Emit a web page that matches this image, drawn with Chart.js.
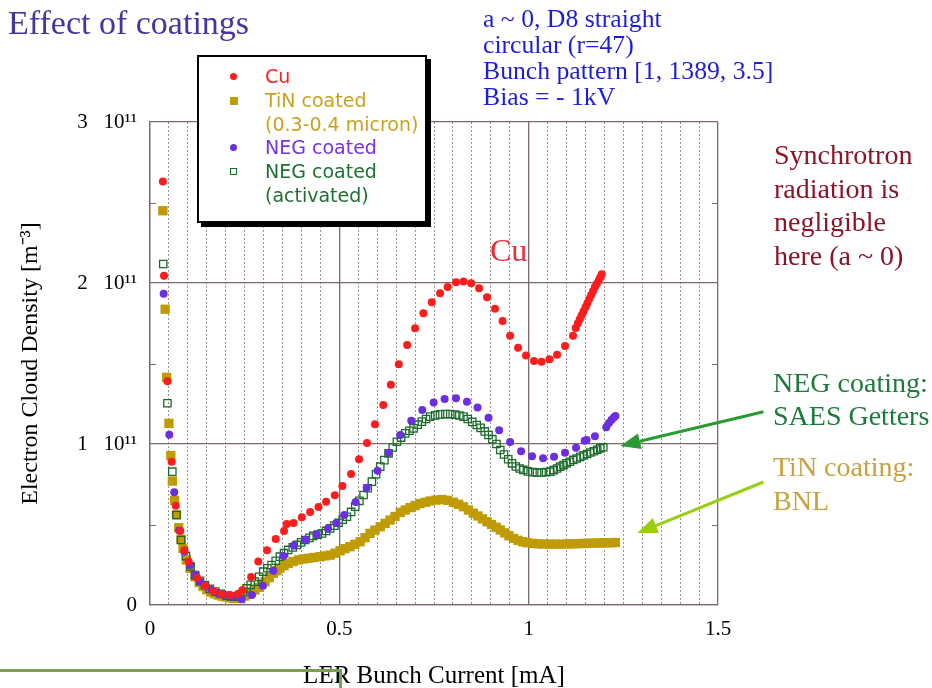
<!DOCTYPE html>
<html>
<head>
<meta charset="utf-8">
<title>Effect of coatings</title>
<script src="https://cdn.jsdelivr.net/npm/chart.js@4.4.1/dist/chart.umd.min.js"></script>
<style>
  html, body { margin: 0; padding: 0; background: #fff; }
  #wrap { position: relative; width: 932px; height: 688px; overflow: hidden; }
  #chart { position: absolute; left: 0; top: 0; }
  .note { position: absolute; font-family: 'Liberation Serif', 'Times New Roman', serif; white-space: nowrap; }
  #legend {
    position: absolute; left: 197px; top: 55px; width: 226px; height: 156px;
    border: 2px solid #000; background: #fff; box-shadow: 4px 4px 0 #000;
    font-family: 'DejaVu Sans', sans-serif; font-size: 19px; line-height: 23.8px;
    padding-top: 8px; box-sizing: content-box;
  }
  #legend .row { position: relative; padding-left: 66px; white-space: nowrap; }
  #legend .mk { position: absolute; left: 31px; top: 8px; }
  .deco { position: absolute; background: #7aa152; }
</style>
</head>
<body>
<div id="wrap">
  <canvas id="chart" width="932" height="688"></canvas>

  <div class="note" style="left:8px; top:6px; font-size:34px; line-height:34px; color:#43369f;">Effect of coatings</div>
  <div class="note" style="left:483px; top:6px; font-size:25.7px; line-height:26px; color:#1e1ed6;">a ~ 0, D8 straight<br>circular (r=47)<br>Bunch pattern [1, 1389, 3.5]<br>Bias = - 1kV</div>
  <div class="note" style="left:774px; top:138px; font-size:28px; line-height:33.5px; color:#8c1428;">Synchrotron<br>radiation is<br>negligible<br>here (a ~ 0)</div>
  <div class="note" style="left:490px; top:234px; font-size:32px; line-height:32px; color:#e8303c;">Cu</div>
  <div class="note" style="left:773px; top:367px; font-size:28px; line-height:32.5px; color:#1c7a3c;">NEG coating:<br>SAES Getters</div>
  <div class="note" style="left:773px; top:450px; font-size:28px; line-height:34px; color:#c9a13e;">TiN coating:<br>BNL</div>

  <div id="legend">
    <div class="row" style="color:#ff2020;"><span class="mk" style="width:7px;height:7px;border-radius:50%;background:#ff1c1c;"></span>Cu</div>
    <div class="row" style="color:#c9a222;"><span class="mk" style="width:8px;height:8px;background:#bf9b06;"></span>TiN coated</div>
    <div class="row" style="color:#c9a222;">(0.3-0.4 micron)</div>
    <div class="row" style="color:#7633e6;"><span class="mk" style="width:7px;height:7px;border-radius:50%;background:#6b2ee0;"></span>NEG coated</div>
    <div class="row" style="color:#1f7030;"><span class="mk" style="width:5px;height:5px;border:1px solid #1b6b2b;"></span>NEG coated</div>
    <div class="row" style="color:#1f7030;">(activated)</div>
  </div>

  <!-- slide decoration bottom left -->
  <div class="deco" style="left:0; top:669px; width:342px; height:3px;"></div>
  <div class="deco" style="left:339px; top:669px; width:3px; height:19px;"></div>
</div>

<script>
// LER bunch current [mA] and electron cloud density in units of 1e11 m^-3
const cuX = [0.034, 0.037, 0.046, 0.057, 0.068, 0.080, 0.091, 0.102, 0.124, 0.146, 0.168, 0.190, 0.212, 0.233,
  0.244, 0.267, 0.286, 0.309, 0.332, 0.354, 0.361, 0.379, 0.401, 0.423, 0.445, 0.465, 0.488, 0.508, 0.531, 0.552,
  0.573, 0.594, 0.616, 0.636, 0.657, 0.679, 0.700, 0.722, 0.744, 0.766, 0.786, 0.808, 0.828, 0.848, 0.869, 0.890,
  0.911, 0.931, 0.951, 0.972, 0.993, 1.014, 1.034, 1.055, 1.075, 1.096, 1.117, 1.124, 1.130, 1.135, 1.140, 1.145,
  1.150, 1.155, 1.160, 1.165, 1.170, 1.175, 1.180, 1.185, 1.189, 1.193];
const cuY = [2.63, 2.045, 1.39, 0.89, 0.617, 0.46, 0.34, 0.27, 0.17, 0.12, 0.085, 0.068, 0.062, 0.07,
  0.093, 0.174, 0.27, 0.34, 0.41, 0.46, 0.503, 0.51, 0.545, 0.578, 0.609, 0.642, 0.681, 0.739, 0.814, 0.905,
  1.006, 1.122, 1.242, 1.368, 1.495, 1.615, 1.719, 1.812, 1.88, 1.936, 1.975, 2.004, 2.01, 1.998, 1.967, 1.911,
  1.84, 1.764, 1.673, 1.598, 1.549, 1.516, 1.511, 1.526, 1.555, 1.609, 1.673, 1.72, 1.75, 1.775, 1.80, 1.825,
  1.85, 1.875, 1.90, 1.925, 1.95, 1.975, 1.995, 2.015, 2.035, 2.055];

const tinX = [0.034, 0.040, 0.044, 0.050, 0.055, 0.059, 0.065, 0.070, 0.076, 0.082, 0.087, 0.096, 0.106, 0.119,
  0.130, 0.140, 0.150, 0.160, 0.170, 0.180, 0.190, 0.200, 0.210, 0.220, 0.230, 0.240, 0.251, 0.260, 0.268, 0.277,
  0.286, 0.295, 0.304, 0.315, 0.326, 0.335, 0.343, 0.354, 0.365, 0.378, 0.392, 0.405, 0.418, 0.432, 0.449, 0.462,
  0.476, 0.489, 0.502, 0.515, 0.528, 0.541, 0.555, 0.568, 0.581, 0.594, 0.608, 0.621, 0.634, 0.647, 0.661, 0.674,
  0.687, 0.700, 0.713, 0.727, 0.740, 0.755, 0.771, 0.786, 0.801, 0.815, 0.828, 0.841, 0.854, 0.866, 0.878, 0.890,
  0.902, 0.914, 0.925, 0.937, 0.948, 0.960, 0.972, 0.984, 0.995, 1.010, 1.025, 1.039, 1.055, 1.070, 1.085, 1.101,
  1.115, 1.128, 1.141, 1.154, 1.167, 1.180, 1.192, 1.205, 1.217, 1.229];
const tinY = [2.449, 1.837, 1.414, 1.128, 0.928, 0.77, 0.65, 0.56, 0.48, 0.408, 0.352, 0.28, 0.228, 0.176,
  0.14, 0.115, 0.095, 0.08, 0.07, 0.062, 0.055, 0.05, 0.045, 0.042, 0.04, 0.045, 0.056, 0.068, 0.08, 0.093,
  0.11, 0.127, 0.145, 0.17, 0.197, 0.213, 0.228, 0.244, 0.259, 0.27, 0.28, 0.286, 0.29, 0.295, 0.30, 0.305,
  0.31, 0.322, 0.337, 0.35, 0.362, 0.377, 0.393, 0.418, 0.445, 0.465, 0.486, 0.507, 0.528, 0.55, 0.575, 0.59,
  0.605, 0.618, 0.63, 0.638, 0.646, 0.652, 0.655, 0.65, 0.638, 0.625, 0.61, 0.59, 0.57, 0.553, 0.535, 0.517,
  0.5, 0.483, 0.466, 0.448, 0.43, 0.414, 0.402, 0.393, 0.387, 0.383, 0.38, 0.379, 0.378, 0.378, 0.378, 0.379,
  0.38, 0.381, 0.382, 0.383, 0.384, 0.385, 0.386, 0.386, 0.387, 0.388];

const negX = [0.036, 0.051, 0.064, 0.077, 0.091, 0.106, 0.119, 0.132, 0.148, 0.163, 0.178, 0.194, 0.216, 0.242,
  0.269, 0.298, 0.326, 0.352, 0.380, 0.410, 0.440, 0.470, 0.492, 0.513, 0.543, 0.572, 0.601, 0.630, 0.661, 0.690,
  0.719, 0.749, 0.778, 0.808, 0.837, 0.865, 0.894, 0.922, 0.951, 0.980, 1.009, 1.038, 1.067, 1.096, 1.125, 1.148,
  1.153, 1.175, 1.205, 1.212, 1.219, 1.225, 1.229];
const negY = [1.934, 1.058, 0.70, 0.462, 0.33, 0.248, 0.19, 0.145, 0.115, 0.093, 0.075, 0.062, 0.052, 0.035,
  0.062, 0.12, 0.213, 0.304, 0.37, 0.405, 0.44, 0.475, 0.51, 0.559, 0.64, 0.729, 0.834, 0.946, 1.056, 1.145,
  1.211, 1.257, 1.28, 1.284, 1.263, 1.226, 1.163, 1.085, 1.012, 0.955, 0.924, 0.911, 0.921, 0.946, 0.977, 1.02,
  1.025, 1.048, 1.104, 1.13, 1.15, 1.165, 1.174];

const negActX = [0.035, 0.046, 0.059, 0.070, 0.082, 0.095, 0.107, 0.119, 0.132, 0.145, 0.158, 0.172, 0.187, 0.203,
  0.214, 0.225, 0.232, 0.238, 0.246, 0.255, 0.266, 0.277, 0.288, 0.299, 0.310, 0.321, 0.332, 0.343, 0.354, 0.365,
  0.377, 0.388, 0.399, 0.410, 0.421, 0.431, 0.443, 0.454, 0.465, 0.476, 0.487, 0.498, 0.509, 0.520, 0.531, 0.542,
  0.553, 0.564, 0.575, 0.586, 0.597, 0.608, 0.619, 0.630, 0.641, 0.652, 0.663, 0.674, 0.685, 0.696, 0.707, 0.718,
  0.729, 0.740, 0.753, 0.766, 0.780, 0.793, 0.806, 0.817, 0.828, 0.839, 0.851, 0.863, 0.873, 0.884, 0.894, 0.904,
  0.915, 0.925, 0.935, 0.946, 0.956, 0.966, 0.976, 0.986, 0.998, 1.010, 1.022, 1.034, 1.046, 1.057, 1.066, 1.075,
  1.083, 1.092, 1.100, 1.109, 1.118, 1.127, 1.136, 1.145, 1.154, 1.163, 1.172, 1.181, 1.189, 1.197];
const negActY = [2.118, 1.253, 0.828, 0.559, 0.404, 0.304, 0.24, 0.186, 0.15, 0.124, 0.10, 0.083, 0.07, 0.058,
  0.054, 0.052, 0.055, 0.062, 0.08, 0.103, 0.125, 0.145, 0.175, 0.207, 0.228, 0.248, 0.275, 0.30, 0.322, 0.342,
  0.358, 0.373, 0.389, 0.404, 0.417, 0.429, 0.437, 0.445, 0.46, 0.476, 0.493, 0.511, 0.53, 0.548, 0.578, 0.611,
  0.647, 0.683, 0.725, 0.766, 0.812, 0.859, 0.90, 0.942, 0.978, 1.014, 1.04, 1.066, 1.082, 1.097, 1.12, 1.139,
  1.155, 1.17, 1.178, 1.184, 1.186, 1.186, 1.182, 1.177, 1.17, 1.155, 1.137, 1.118, 1.10, 1.078, 1.056, 1.03,
  1.0, 0.963, 0.935, 0.905, 0.88, 0.86, 0.848, 0.839, 0.83, 0.825, 0.822, 0.823, 0.825, 0.828, 0.838, 0.848,
  0.859, 0.869, 0.88, 0.89, 0.901, 0.91, 0.92, 0.929, 0.938, 0.947, 0.955, 0.964, 0.973, 0.98];

// axis ticks
const xMajorTicks = [0, 0.5, 1, 1.5];
const yMajorTicks = [0, 1, 2, 3];

// annotation arrows, in data coordinates (from text -> to curve end)
const arrows = [
  { from: [1.62, 1.20], to: [1.242, 0.988], color: '#2a9a32' },
  { from: [1.62, 0.764], to: [1.287, 0.447], color: '#9acd14' },
];

const pts = (xs, ys) => xs.map((x, i) => ({ x: x, y: ys[i] }));
const isMajorX = (v) => xMajorTicks.some((m) => Math.abs(m - v) < 1e-6);
const isMajorY = (v) => yMajorTicks.some((m) => Math.abs(m - v) < 1e-6);

const frameColor = '#7d6a6a';

// small inner ticks on the frame + annotation arrows
const decorPlugin = {
  id: 'decor',
  afterDraw(chart) {
    const { ctx, chartArea, scales } = chart;
    ctx.save();
    ctx.strokeStyle = frameColor;
    ctx.lineWidth = 1;
    scales.y.ticks.forEach((t) => {
      if (isMajorY(t.value)) return;
      const py = Math.round(scales.y.getPixelForValue(t.value)) + 0.5;
      ctx.beginPath();
      ctx.moveTo(chartArea.left, py); ctx.lineTo(chartArea.left + 6, py);
      ctx.moveTo(chartArea.right, py); ctx.lineTo(chartArea.right - 6, py);
      ctx.stroke();
    });

    arrows.forEach((a) => {
      const x1 = scales.x.getPixelForValue(a.from[0]);
      const y1 = scales.y.getPixelForValue(a.from[1]);
      const x2 = scales.x.getPixelForValue(a.to[0]);
      const y2 = scales.y.getPixelForValue(a.to[1]);
      const ang = Math.atan2(y2 - y1, x2 - x1);
      const head = 20, half = 8;
      const bx = x2 - head * Math.cos(ang), by = y2 - head * Math.sin(ang);
      ctx.strokeStyle = a.color;
      ctx.fillStyle = a.color;
      ctx.lineWidth = 3;
      ctx.beginPath();
      ctx.moveTo(x1, y1); ctx.lineTo(bx, by);
      ctx.stroke();
      ctx.beginPath();
      ctx.moveTo(x2, y2);
      ctx.lineTo(bx + half * Math.sin(ang), by - half * Math.cos(ang));
      ctx.lineTo(bx - half * Math.sin(ang), by + half * Math.cos(ang));
      ctx.closePath();
      ctx.fill();
    });
    ctx.restore();
  }
};

const serif = 'Liberation Serif';

new Chart(document.getElementById('chart'), {
  type: 'scatter',
  data: {
    datasets: [
      { label: 'Cu', data: pts(cuX, cuY), pointStyle: 'circle', pointRadius: 4,
        backgroundColor: '#ff1c1c', borderWidth: 0 },
      { label: 'NEG coated', data: pts(negX, negY), pointStyle: 'circle', pointRadius: 4,
        backgroundColor: '#6b2ee0', borderWidth: 0 },
      { label: 'NEG coated (activated)', data: pts(negActX, negActY), pointStyle: 'rect', pointRadius: 5.2,
        backgroundColor: 'rgba(0,0,0,0)', borderColor: '#1b6b2b', borderWidth: 1.3 },
      { label: 'TiN coated (0.3-0.4 micron)', data: pts(tinX, tinY), pointStyle: 'rect', pointRadius: 6.6,
        backgroundColor: '#bf9b06', borderWidth: 0 },
    ]
  },
  options: {
    responsive: false,
    devicePixelRatio: 1,
    animation: false,
    events: [],
    layout: { padding: { left: 12, top: 122, right: 214, bottom: 0 } },
    plugins: { legend: { display: false }, tooltip: { enabled: false } },
    scales: {
      x: {
        type: 'linear', min: 0, max: 1.5,
        afterFit: (scale) => { scale.height = 83; },
        ticks: {
          stepSize: 0.05, autoSkip: false, maxRotation: 0, padding: 12,
          color: '#000', font: { family: serif, size: 21 },
          callback: (v) => (isMajorX(v) ? String(v) : '')
        },
        grid: {
          drawTicks: false,
          color: (c) => (c.tick && isMajorX(c.tick.value) ? frameColor : '#9b8f8f'),
          lineWidth: (c) => (c.tick && isMajorX(c.tick.value) ? 1.3 : 1)
        },
        border: {
          color: frameColor, width: 1.3,
          dash: (c) => (c.tick && !isMajorX(c.tick.value) ? [2, 2] : [])
        },
        title: {
          display: true, text: 'LER Bunch Current [mA]', color: '#000',
          font: { family: serif, size: 25 }, padding: { top: 0, bottom: -3 }
        }
      },
      y: {
        type: 'linear', min: 0, max: 3,
        afterFit: (scale) => { scale.width = 138; },
        ticks: {
          stepSize: 0.5, padding: 13, color: '#000', font: { family: serif, size: 21 },
          callback: (v) => (isMajorY(v) ? (v === 0 ? '0' : v + '   10\u00B9\u00B9') : '')
        },
        grid: {
          drawTicks: false,
          color: (c) => (c.tick && isMajorY(c.tick.value) ? frameColor : 'rgba(0,0,0,0)'),
          lineWidth: 1.3
        },
        border: { color: frameColor, width: 1.3 },
        title: {
          display: true, text: 'Electron Cloud Density [m\u207B\u00B3]', color: '#000',
          font: { family: serif, size: 24 }, padding: { top: 4, bottom: 0 }
        }
      }
    }
  },
  plugins: [decorPlugin]
});
</script>
</body>
</html>
